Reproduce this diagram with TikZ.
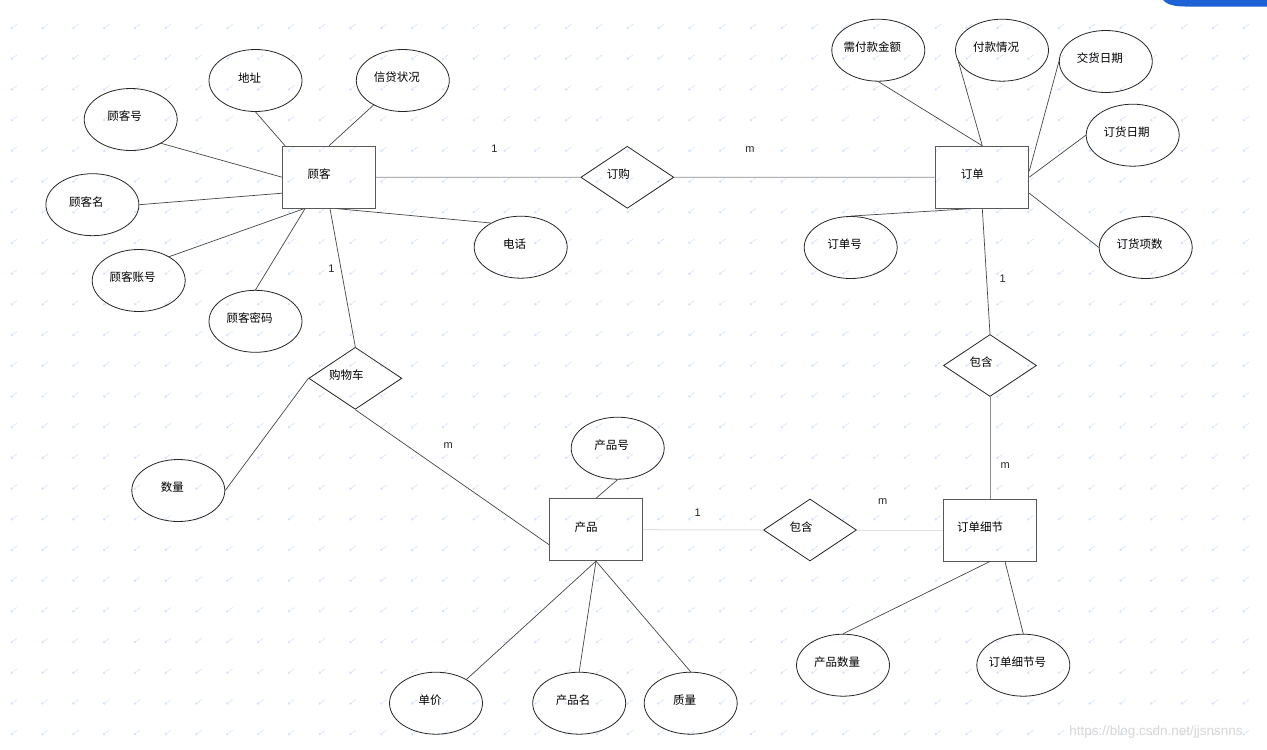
\documentclass[tikz,border=0pt]{standalone}
\usepackage{fontspec}
\setmainfont{Liberation Sans}
\newfontfamily\cjk{Noto Sans CJK SC}
\usetikzlibrary{shapes.geometric,calc}
\definecolor{wmblue}{RGB}{214,228,247}
\definecolor{tabblue}{RGB}{30,98,214}
\definecolor{lnk}{RGB}{70,70,70}
\tikzset{
  lbl/.style={font=\cjk\fontsize{11.5}{13}\selectfont, inner sep=0pt, text=black},
  attr/.style={draw=black!85, ellipse, minimum width=93pt, minimum height=62pt, inner sep=0pt, line width=0.8pt,
    label={[lbl,xshift=-6pt,yshift=3pt]center:#1}},
  ent/.style={draw=black!65, rectangle, minimum width=93pt, minimum height=62pt, inner sep=0pt, line width=0.9pt,
    label={[lbl,xshift=-10pt,yshift=3pt]center:#1}},
  rel/.style={draw=black!85, diamond, minimum width=93pt, minimum height=62pt, inner sep=0pt, line width=0.8pt,
    label={[lbl,xshift=-9pt,yshift=3pt]center:#1}},
  conn/.style={draw=lnk, line width=0.7pt},
  gconn/.style={draw=black!45, line width=0.8pt},
  lconn/.style={draw=black!12, line width=1pt},
  card/.style={font=\fontsize{11}{13}\selectfont, inner sep=0pt, text=black!85},
}
\begin{document}
\begin{tikzpicture}[x=1pt,y=-1pt]
\path[use as bounding box, fill=white] (0,0) rectangle (1267,750);
% background watermark tiles
\foreach \i in {0,...,41}{
  \foreach \j in {0,...,24}{
    \fill[wmblue] ({11.8+30.8*\i},{-2.7+30.7*\j}) circle (1.4);
    \draw[wmblue, line width=0.6pt] ({13.3+30.8*\i},{-3.8+30.7*\j}) -- ({17+30.8*\i},{-6.5+30.7*\j});
  }
}
% top-right blue tab
\fill[tabblue] (1163,0) -- (1267,0) -- (1267,6.5) -- (1185,6.5) .. controls (1172,6.5) and (1166,3.5) .. (1163,0);

% entities
\node[ent=顾客] (cust) at (329,177.2) {};
\node[ent=订单] (ord) at (982.3,177.2) {};
\node[ent=产品] (prod) at (596,529.7) {};
\node[ent=订单细节] (det) at (990,530) {};

% relationships
\node[rel=订购] (buy) at (627.3,177.3) {};
\node[rel=购物车] (cart) at (355.3,378.3) {};
\node[rel=包含] (inc1) at (990,365.5) {};
\node[rel=包含] (inc2) at (810,530) {};

% attributes of 顾客
\node[attr=地址] (addr) at (255.5,80.5) {};
\node[attr=信贷状况] (credit) at (402.8,80.5) {};
\node[attr=顾客号] (custno) at (130.7,119.5) {};
\node[attr=顾客名] (custname) at (92.4,204.7) {};
\node[attr=顾客账号] (acct) at (138.7,280.5) {};
\node[attr=顾客密码] (pwd) at (255.5,321.3) {};
\node[attr=电话] (phone) at (520.7,247.2) {};

% attributes of 订单
\node[attr=需付款金额] (pay) at (878.3,50.2) {};
\node[attr=付款情况] (paystat) at (1002,50.2) {};
\node[attr=交货日期] (deliv) at (1105.8,61.5) {};
\node[attr=订货日期] (odate) at (1132.7,135.2) {};
\node[attr=订货项数] (items) at (1145.7,247.5) {};
\node[attr=订单号] (ordno) at (850.7,247.5) {};

% attributes of 购物车
\node[attr=数量] (qty) at (178.3,490.5) {};

% attributes of 产品
\node[attr=产品号] (prodno) at (617.7,448.2) {};
\node[attr=单价] (price) at (436,703.2) {};
\node[attr=产品名] (pname) at (579.2,703.2) {};
\node[attr=质量] (qual) at (690.7,703.2) {};

% attributes of 订单细节
\node[attr=产品数量] (pqty) at (843,665.2) {};
\node[attr=订单细节号] (detno) at (1023.3,665.2) {};

% connectors: 顾客 attributes
\draw[conn] (addr.south) -- ($(cust.north west)+(3,0)$);
\draw[conn] (credit.220) -- (cust.north);
\draw[conn] (custno.-38) -- (cust.west);
\draw[conn] (custname.east) -- ($(cust.west)+(0,16)$);
\draw[conn] (acct.38) -- ($(cust.south west)+(22,0)$);
\draw[conn] (pwd.north) -- ($(cust.south west)+(23,0)$);
\draw[conn] (phone.141) -- ($(cust.south)+(8,0)$);

% connectors: 订单 attributes
\draw[conn] (pay.south) -- (ord.north);
\draw[conn] (paystat.195) -- (ord.north);
\draw[conn] (deliv.west) -- ($(ord.east)+(0,-6)$);
\draw[conn] (odate.west) -- (ord.east);
\draw[conn] (items.west) -- ($(ord.east)+(0,16)$);
\draw[conn] (ordno.north) -- ($(ord.south)+(-12,0)$);

% relationships
\draw[gconn] (cust.east) -- (buy.west);
\draw[gconn] (buy.east) -- (ord.west);
\draw[conn] ($(cust.south)+(1,0)$) -- (cart.north);
\draw[conn] (cart.west) -- (qty.east);
\draw[conn] (cart.south) -- ($(prod.west)+(0,15)$);
\draw[conn] (ord.south) -- (inc1.north);
\draw[gconn] (inc1.south) -- (det.north);
\draw[lconn] (prod.east) -- (inc2.west);
\draw[lconn] (inc2.east) -- (det.west);

% connectors: 产品 attributes
\draw[conn] (prodno.south) -- (prod.north);
\draw[conn] (price.38) -- (prod.south);
\draw[conn] (pname.north) -- (prod.south);
\draw[conn] (qual.north) -- (prod.south);

% connectors: 订单细节 attributes
\draw[conn] (pqty.north) -- (det.south);
\draw[conn] (detno.north) -- ($(det.south)+(15,0)$);

% cardinalities
\node[card] (c1) at (494.5,148.3) {1};
\node[card] (c2) at (750,150) {m};
\node[card] (c3) at (331.4,268.3) {1};
\node[card] (c4) at (448.3,445.7) {m};
\node[card] (c5) at (697.7,512.3) {1};
\node[card] (c6) at (882.7,502) {m};
\node[card] (c7) at (1002.7,278.3) {1};
\node[card] (c8) at (1005.3,465.7) {m};

% watermark text
\node[font=\fontsize{13.5}{15}\selectfont, text=black!16, inner sep=0pt] (wm) at (1156,732) {https://blog.csdn.net/jjsnsnns};
\end{tikzpicture}
\end{document}
